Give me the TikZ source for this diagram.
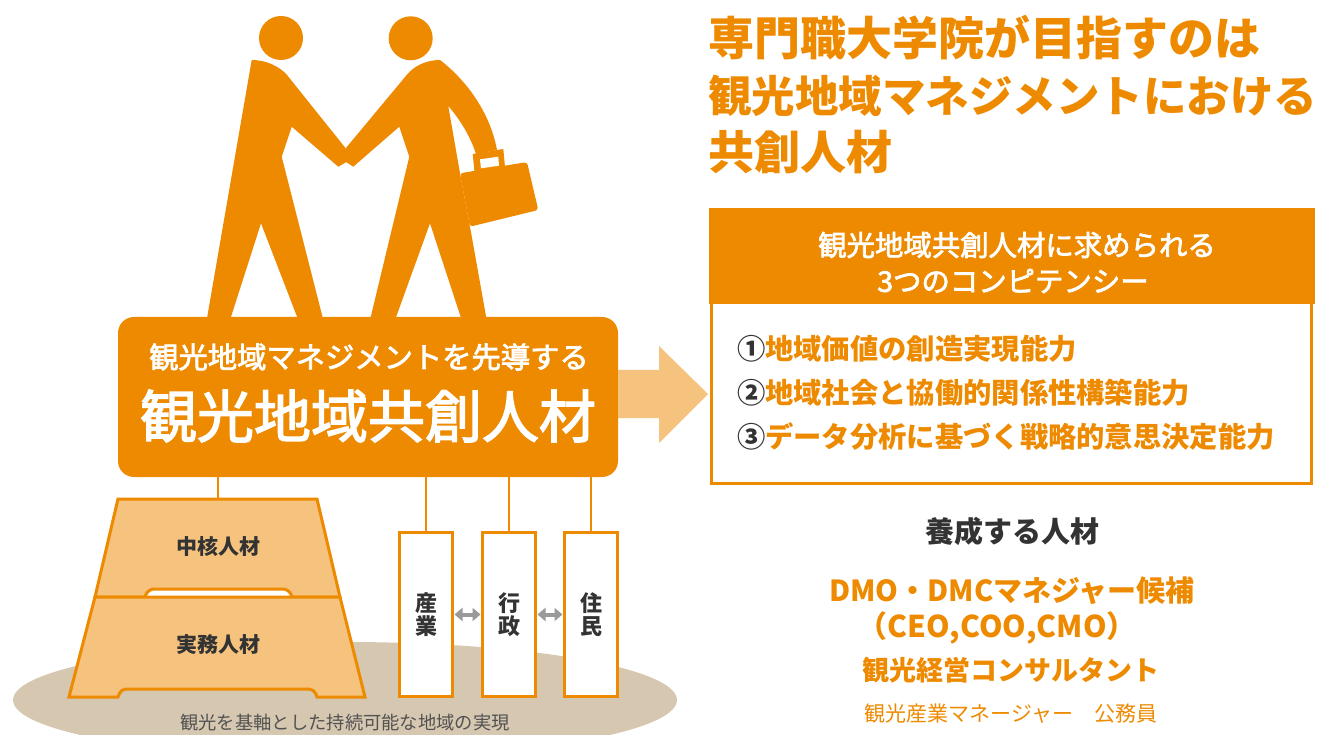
\documentclass[tikz,border=0pt]{standalone}
\usepackage{fontspec}
\setmainfont{Noto Sans CJK JP}
\newfontfamily\jpmed{Noto Sans CJK JP}[FakeBold=2.5]
\usetikzlibrary{arrows.meta,calc}

\definecolor{brand}{HTML}{EE8A00}
\definecolor{peach}{HTML}{F6C37F}
\definecolor{sand}{HTML}{D6C7B1}
\definecolor{ink}{HTML}{333333}
\definecolor{linkgray}{HTML}{9A9A9A}

\newcommand{\jsize}[1]{\fontsize{#1pt}{#1pt}\selectfont}

\begin{document}
\begin{tikzpicture}[x=1pt,y=-1pt,
  txt/.style={inner sep=0pt,outer sep=0pt},
  conn/.style={draw=brand,line width=2.5pt},
  slab/.style={draw=brand,line width=3pt,fill=peach,line join=miter},
  pillar/.style={draw=brand,line width=3pt,fill=white,minimum width=53pt,
    minimum height=164pt,inner sep=0pt,align=center,text=ink,
    font={\fontsize{22pt}{23pt}\selectfont\bfseries}},
  duo/.style={draw=linkgray,line width=4pt,
    {Triangle[width=13pt,length=8pt]}-{Triangle[width=13pt,length=8pt]},
    shorten <=0.5pt,shorten >=0.5pt}]

\useasboundingbox (0,0) rectangle (1318,735);

% ground ellipse
\fill[sand] (345,700) ellipse [x radius=332pt,y radius=58pt];

% ---- two figures shaking hands ----
\fill[brand] (281,38) circle [radius=22pt];
\fill[brand] (410.7,38.3) circle [radius=22pt];
% left figure
\fill[brand] (251.7,60) .. controls (266,60) and (279,66) .. (287,75)
  -- (345.7,148.3) -- (346.5,162) -- (338.3,166.7) -- (291.7,126.7)
  -- (281.7,156.7) -- (323.3,320) -- (298.3,320) -- (261,223.3)
  -- (230,320) -- (206.7,320) -- cycle;
% right figure
\fill[brand] (440,60) .. controls (426,60) and (414,66) .. (406.7,75)
  -- (345.7,148.3) -- (346,162) -- (353.3,166.7) -- (399.3,126.7)
  -- (409.3,156.7) -- (370,320) -- (395,320) -- (430,223.3)
  -- (461.7,320) -- (486.7,320) -- (470,226.7) -- (460,173.3)
  -- (448.3,106) .. controls (458,117) and (470,135) .. (476,154)
  -- (497,150) .. controls (490,112) and (466,80) .. (440,60) -- cycle;
% briefcase
\fill[brand,rounded corners=3pt] (460,173.3) -- (527,162) -- (538.3,210) -- (470,226.7) -- cycle;
\fill[brand] (472.7,154) -- (503.3,149) -- (505,167) -- (474.5,172) -- cycle;
\fill[white] (480,159.3) -- (498.3,156.7) -- (499,165.7) -- (481,168.3) -- cycle;

% ---- main box ----
\node[fill=brand,rounded corners=16pt,minimum width=500pt,minimum height=160pt,inner sep=0pt]
  (lead) at (368,397) {};
\node[txt,text=white] (leadsub) at (369,357) {\jpmed\jsize{29.3}観光地域マネジメントを先導する};
\node[txt,text=white] (leadmain) at (368,416) {\jpmed\jsize{57}観光地域共創人材};

% ---- competency box ----
\node[draw=brand,line width=3pt,fill=white,minimum width=600pt,minimum height=272pt,inner sep=0pt]
  (comp) at (1011.5,347.5) {};
\fill[brand] ($(comp.north west)+(-1.5,-1.5)$) rectangle ($(comp.north east)+(1.5,94.5)$);
\node[txt,text=white] (cmphead) at (1017,245) {\jpmed\jsize{28.4}観光地域共創人材に求められる};
\node[txt,text=white] (cmphead2) at (1013,281) {\jpmed\jsize{28.4}3つのコンピテンシー};
\node[txt,anchor=west] (c1) at (737,349) {\jsize{28.3}\bfseries\textcolor{ink}{①}\textcolor{brand}{地域価値の創造実現能力}};
\node[txt,anchor=west] (c2) at (737,393) {\jsize{28.3}\bfseries\textcolor{ink}{②}\textcolor{brand}{地域社会と協働的関係性構築能力}};
\node[txt,anchor=west] (c3) at (737,437) {\jsize{28.3}\bfseries\textcolor{ink}{③}\textcolor{brand}{データ分析に基づく戦略的意思決定能力}};

% ---- arrow from main box to competency box ----
\coordinate (tip) at (708,394);
\fill[peach] (lead.east |- 0,370) -- (659,370) -- (659,346) -- (tip)
  -- (659,443) -- (659,418) -- (lead.east |- 0,418) -- cycle;

% ---- title ----
\node[txt,anchor=west,text=brand] (t1) at (708,38) {\jsize{46}\bfseries 専門職大学院が目指すのは};
\node[txt,anchor=west,text=brand] (t2) at (708,96) {\jsize{43.5}\bfseries 観光地域マネジメントにおける};
\node[txt,anchor=west,text=brand] (t3) at (708,152) {\jsize{46}\bfseries 共創人材};

% ---- stacked platform ----
\draw[slab] (95,597) -- (118,499) -- (317,499) -- (340,597) -- (292,597)
  [rounded corners=6pt] -- (289,589) -- (148,589) [sharp corners] -- (145,597) -- cycle;
\draw[slab] (95,597) -- (340,597) -- (365,697) -- (317,697)
  [rounded corners=5pt] -- (314,689) -- (121,689) [sharp corners] -- (118,697) -- (69,697) -- cycle;
\coordinate (plattop) at (218,499);
\node[txt,text=ink] (core) at (218,547) {\jsize{21}\bfseries 中核人材};
\node[txt,text=ink] (prac) at (218,645) {\jsize{21}\bfseries 実務人材};

% ---- pillars ----
\node[pillar] (p1) at (426,614.5) {産\\業};
\node[pillar] (p2) at (509,614.5) {行\\政};
\node[pillar] (p3) at (591,614.5) {住\\民};
\draw[duo] (p1.east) -- (p2.west);
\draw[duo] (p2.east) -- (p3.west);

% ---- links from the main box ----
\draw[conn] (lead.south -| plattop) -- (plattop);
\draw[conn] (lead.south -| p1.north) -- (p1.north);
\draw[conn] (lead.south -| p2.north) -- (p2.north);
\draw[conn] (lead.south -| p3.north) -- (p3.north);

\node[txt,text=ink!85] (base) at (345,723) {\jsize{18.3}観光を基軸とした持続可能な地域の実現};

% ---- trained roles ----
\node[txt,text=ink] (roles) at (1012,531) {\jsize{29}\bfseries 養成する人材};
\node[txt,text=brand] (r1) at (1012,591) {\jsize{29}\bfseries DMO・DMCマネジャー候補};
\node[txt,text=brand] (r2) at (997,628) {\jsize{30}\bfseries （CEO,COO,CMO）};
\node[txt,text=brand] (r3) at (1011,670) {\jsize{27}\bfseries 観光経営コンサルタント};
\node[txt,text=brand] (r4) at (1011,714) {\jsize{21}観光産業マネージャー　公務員};
\end{tikzpicture}
\end{document}
